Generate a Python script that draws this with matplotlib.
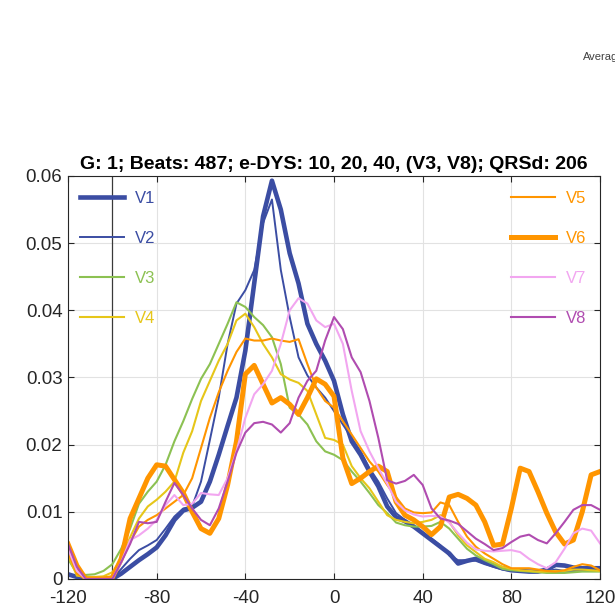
import numpy as np
import matplotlib
matplotlib.use('Agg')
import matplotlib.pyplot as plt

plt.rcParams['font.family'] = ['Liberation Sans', 'DejaVu Sans']
plt.rcParams['axes.unicode_minus'] = False

# time axis (ms), sampled every 4 ms
t = np.arange(-120, 121, 4)

v1 = [0.0007, 0.0003, 0.0, 0.0, 0.0, 0.0, 0.0008, 0.0018, 0.0028, 0.0037,
      0.0047, 0.0065, 0.0088, 0.0102, 0.0106, 0.0115, 0.0145, 0.0185, 0.0228, 0.027,
      0.034, 0.044, 0.054, 0.0593, 0.055, 0.0485, 0.044, 0.038, 0.035, 0.0325,
      0.0295, 0.0245, 0.0205, 0.0185, 0.016, 0.0138, 0.0108, 0.0092, 0.0086, 0.0078,
      0.0068, 0.0058, 0.0048, 0.0038, 0.0023, 0.0027, 0.003, 0.0025, 0.002, 0.0016,
      0.0013, 0.0012, 0.0011, 0.0011, 0.0014, 0.0021, 0.002, 0.0017, 0.0016, 0.0016,
      0.0016]
v2 = [0.0007, 0.0003, 0.0, 0.0, 0.0, 0.0, 0.0015, 0.003, 0.0043, 0.005,
      0.0058, 0.0075, 0.0093, 0.0105, 0.0108, 0.0145, 0.0207, 0.027, 0.035, 0.041,
      0.043, 0.046, 0.053, 0.0565, 0.046, 0.039, 0.033, 0.0303, 0.0285, 0.027,
      0.025, 0.023, 0.021, 0.019, 0.0165, 0.0145, 0.012, 0.0098, 0.0088, 0.0078,
      0.0068, 0.006, 0.005, 0.0035, 0.0028, 0.0028, 0.0027, 0.0022, 0.0018, 0.0014,
      0.0012, 0.0012, 0.0011, 0.0011, 0.0012, 0.0014, 0.0012, 0.0012, 0.0012, 0.0012,
      0.0012]
v3 = [0.003, 0.0008, 0.0006, 0.0007, 0.0012, 0.0022, 0.0045, 0.0075, 0.0112, 0.013,
      0.0145, 0.017, 0.0205, 0.0235, 0.0268, 0.0298, 0.032, 0.035, 0.038, 0.0412,
      0.0405, 0.039, 0.0378, 0.036, 0.032, 0.0255, 0.0245, 0.023, 0.0205, 0.019,
      0.0185, 0.0177, 0.016, 0.0145, 0.0128, 0.011, 0.0098, 0.0084, 0.008, 0.0078,
      0.0078, 0.0079, 0.0085, 0.0075, 0.006, 0.0045, 0.0035, 0.0028, 0.0022, 0.0015,
      0.0013, 0.0012, 0.0011, 0.001, 0.0009, 0.0009, 0.0009, 0.001, 0.0011, 0.0011,
      0.0011]
v4 = [0.0035, 0.0005, 0.0003, 0.0003, 0.0004, 0.001, 0.003, 0.0062, 0.009, 0.0108,
      0.0118, 0.013, 0.0145, 0.0188, 0.022, 0.0265, 0.0295, 0.0325, 0.035, 0.0385,
      0.0395, 0.0375, 0.035, 0.033, 0.0305, 0.0297, 0.0292, 0.028, 0.0245, 0.021,
      0.0207, 0.02, 0.0168, 0.015, 0.0135, 0.0115, 0.0095, 0.0088, 0.0085, 0.0083,
      0.0085, 0.0088, 0.0095, 0.0085, 0.0065, 0.005, 0.004, 0.003, 0.0025, 0.0018,
      0.0015, 0.0013, 0.0012, 0.0011, 0.0011, 0.0012, 0.0012, 0.0014, 0.0014, 0.0013,
      0.0012]
v5 = [0.004, 0.0008, 0.0, 0.0, 0.0, 0.0002, 0.0025, 0.0055, 0.0078, 0.0088,
      0.0095, 0.0105, 0.0115, 0.0125, 0.015, 0.0195, 0.024, 0.0278, 0.031, 0.0338,
      0.0358, 0.0355, 0.0355, 0.0358, 0.0355, 0.0353, 0.0357, 0.032, 0.0285, 0.0265,
      0.0255, 0.0235, 0.0215, 0.0195, 0.0175, 0.016, 0.014, 0.0122, 0.0105, 0.0099,
      0.0098, 0.0099, 0.0114, 0.011, 0.0085, 0.0063, 0.0048, 0.0038, 0.003, 0.0022,
      0.0016, 0.0016, 0.0016, 0.0014, 0.0012, 0.0011, 0.0013, 0.0018, 0.0022, 0.002,
      0.0013]
v6 = [0.0052, 0.002, 0.0, 0.0, 0.0, 0.0002, 0.003, 0.009, 0.012, 0.015,
      0.017, 0.0168, 0.0148, 0.0128, 0.01, 0.0075, 0.0068, 0.009, 0.014, 0.0205,
      0.0305, 0.0318, 0.029, 0.0262, 0.027, 0.026, 0.0245, 0.027, 0.0298, 0.029,
      0.0272, 0.018, 0.0142, 0.015, 0.016, 0.0168, 0.016, 0.0115, 0.0095, 0.0088,
      0.0078, 0.0066, 0.0078, 0.0122, 0.0126, 0.012, 0.011, 0.0085, 0.005, 0.0052,
      0.0105, 0.0165, 0.016, 0.013, 0.0098, 0.007, 0.0052, 0.0058, 0.01, 0.0155,
      0.016]
v7 = [0.0045, 0.0012, 0.0, 0.0, 0.0, 0.0, 0.0025, 0.0058, 0.0065, 0.0075,
      0.0088, 0.011, 0.0125, 0.011, 0.0112, 0.0128, 0.0126, 0.0125, 0.015, 0.019,
      0.024, 0.0275, 0.029, 0.031, 0.035, 0.04, 0.0418, 0.041, 0.0385, 0.0375,
      0.038, 0.035, 0.028, 0.022, 0.019, 0.0165, 0.0142, 0.0115, 0.0102, 0.0096,
      0.0093, 0.0094, 0.0093, 0.0084, 0.0068, 0.0054, 0.0044, 0.0042, 0.0041, 0.0042,
      0.0043, 0.004, 0.003, 0.0022, 0.0016, 0.0025, 0.0045, 0.0068, 0.0075, 0.0072,
      0.0053]
v8 = [0.0052, 0.0018, 0.0, 0.0, 0.0, 0.0, 0.0025, 0.0052, 0.0085, 0.0083,
      0.0085, 0.0115, 0.0143, 0.0125, 0.0105, 0.0088, 0.008, 0.0105, 0.0145, 0.0188,
      0.0218, 0.0232, 0.0234, 0.023, 0.0218, 0.0232, 0.027, 0.0295, 0.031, 0.0355,
      0.039, 0.0372, 0.033, 0.0308, 0.0265, 0.021, 0.0147, 0.0142, 0.0146, 0.0155,
      0.014, 0.0105, 0.009, 0.0087, 0.0082, 0.0071, 0.006, 0.0052, 0.0043, 0.0046,
      0.0055, 0.0063, 0.0066, 0.0058, 0.0053, 0.0068, 0.0085, 0.0103, 0.011, 0.011,
      0.0103]

leads = ['V1', 'V2', 'V3', 'V4', 'V5', 'V6', 'V7', 'V8']
series = [v1, v2, v3, v4, v5, v6, v7, v8]
colors = ['#3b4da3', '#3b4da3', '#8cc152', '#e6c619',
          '#ff9500', '#ff9500', '#f2a6f0', '#b04cb0']
widths = [3.3, 1.4, 1.5, 1.5, 1.5, 3.6, 1.5, 1.5]

fig = plt.figure(figsize=(6.15, 6.13), dpi=100)
ax = fig.add_axes([0.1106, 0.0555, 0.865, 0.6574])

ax.axvline(-100, color='#3a3a3a', lw=0.9, zorder=1)

lines = []
for name, y, c, w in zip(leads, series, colors, widths):
    ln, = ax.plot(t, y, color=c, lw=w, label=name, zorder=2)
    lines.append(ln)

ax.set_xlim(-120, 120)
ax.set_ylim(0, 0.06)
ax.set_xticks(np.arange(-120, 121, 40))
ax.set_yticks(np.arange(0, 0.061, 0.01))
ax.set_yticklabels(['0', '0.01', '0.02', '0.03', '0.04', '0.05', '0.06'])
ax.grid(True, color='#e2e2e2', lw=0.8)
ax.set_axisbelow(True)
ax.tick_params(direction='in', top=True, right=True, length=4,
               labelsize=13.5, colors='#262626')
ax.tick_params(axis='y', pad=4)
ax.tick_params(axis='x', pad=8)
for s in ax.spines.values():
    s.set_color('#262626')
    s.set_linewidth(0.8)

ax.set_title('G: 1; Beats: 487; e-DYS: 10, 20, 40, (V3, V8); QRSd: 206',
             fontsize=14, fontweight='bold', pad=5)

leg_kw = dict(frameon=False, fontsize=12, labelcolor='linecolor', loc='upper left',
              handlelength=2.64, handletextpad=0.66, labelspacing=1.5,
              borderpad=0, borderaxespad=0)
left = ax.legend(lines[:4], leads[:4], bbox_to_anchor=(0.0226, 0.962), **leg_kw)
ax.add_artist(left)
ax.legend(lines[4:], leads[4:], bbox_to_anchor=(0.833, 0.962), **leg_kw)

fig.text(583 / 615, 1 - 57 / 613, 'Average', fontsize=8, color='#404040', va='center')

fig.savefig('out.png', dpi=100)
